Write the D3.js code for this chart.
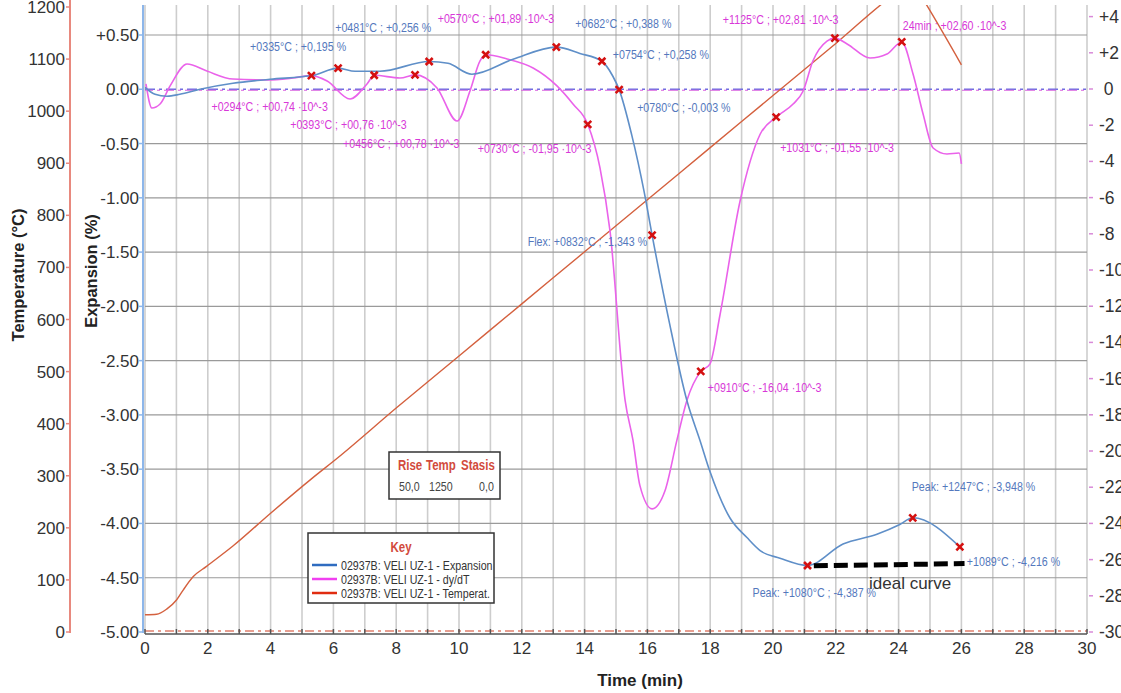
<!DOCTYPE html>
<html><head><meta charset="utf-8">
<script src="https://cdn.jsdelivr.net/npm/d3@7"></script>
<style>body{margin:0;background:#fff;overflow:hidden}</style>
</head><body><svg id="c" width="1121" height="693"></svg>
<script>
// ---------- DATA ----------
const timeTicks = [0,2,4,6,8,10,12,14,16,18,20,22,24,26,28,30];
const tempTicks = [0,100,200,300,400,500,600,700,800,900,1000,1100,1200];
const expTicks = [0.5,0,-0.5,-1,-1.5,-2,-2.5,-3,-3.5,-4,-4.5,-5];
const expTickLabels = ["+0.50","0.00","-0.50","-1.00","-1.50","-2.00","-2.50","-3.00","-3.50","-4.00","-4.50","-5.00"];
const dydtTicks = [4,2,0,-2,-4,-6,-8,-10,-12,-14,-16,-18,-20,-22,-24,-26,-28,-30];
const dydtTickLabels = ["+4","+2"," 0","-2","-4","-6","-8","-10","-12","-14","-16","-18","-20","-22","-24","-26","-28","-30"];

const expansionTime  = [0,0.32,0.7,1.11,1.75,2.8,3.98,5.35,6.15,6.69,7.48,9.05,9.65,10.41,11.72,13.1,13.85,14.55,14.9,15.1,15.5,15.9,16.15,16.7,17.26,17.68,17.99,18.63,19.17,19.59,20.22,21.1,22.23,23.31,24.04,24.45,25.95];
const expansionValue = [0.018,-0.046,-0.064,-0.046,0.0,0.055,0.092,0.129,0.195,0.166,0.166,0.256,0.239,0.138,0.276,0.388,0.33,0.258,0.12,-0.003,-0.42,-0.95,-1.343,-2.15,-2.87,-3.24,-3.52,-3.95,-4.13,-4.25,-4.32,-4.387,-4.19,-4.10,-4.01,-3.948,-4.216];

const dydtTime  = [0.03,0.22,0.48,0.8,1.34,1.97,2.8,3.89,4.71,5.3,5.8,6.53,7.07,7.3,8.12,8.6,9.3,9.94,10.35,10.67,10.85,11.53,12.36,13.12,13.63,14.1,14.49,14.81,15.29,15.54,15.76,16.15,16.56,16.94,17.26,17.7,17.99,18.31,18.95,19.59,20.1,20.64,20.96,21.27,21.72,21.97,22.36,23.09,23.63,24.1,24.46,24.78,25.1,25.54,25.93,26.0];
const dydtValue = [0.28,-1.05,-0.83,0.17,1.38,0.99,0.55,0.50,0.61,0.74,0.44,-0.55,0.28,0.76,0.61,0.78,0.06,-1.77,-0.11,1.55,1.89,1.66,1.16,0.17,-0.83,-1.95,-4.36,-7.85,-17.2,-19.4,-21.9,-23.2,-22.2,-19.4,-17.2,-15.6,-15.2,-12.5,-6.2,-2.5,-1.55,-0.83,-0.11,1.55,2.65,2.81,2.49,1.71,1.93,2.60,0.83,-1.38,-3.26,-3.59,-3.54,-4.14];

const tempTime  = [0,0.37,0.69,1.01,1.21,1.53,1.96,2.8,4,5.3,6.15,8,10,12,14,16,18,20,22,24,24.45,24.9,26];
const tempValue = [33,34,44,62,80,106,126,165,228,294,335,430,530,630,730,830,930,1030,1130,1230,1247,1203,1089];

const expMarkerTime  = [6.15,9.05,13.1,14.55,15.1,16.15,21.1,24.45,25.95];
const expMarkerValue = [0.195,0.256,0.388,0.258,-0.003,-1.343,-4.387,-3.948,-4.216];
const expMarkerLabel = ["+0335°C ; +0,195 %","+0481°C ; +0,256 %","+0682°C ; +0,388 %","+0754°C ; +0,258 %","+0780°C ; -0,003 %","Flex: +0832°C ; -1,343 %","Peak: +1080°C ; -4,387 %","Peak: +1247°C ; -3,948 %","+1089°C ; -4,216 %"];

const dydtMarkerTime  = [5.3,7.3,8.6,10.85,14.1,17.7,20.1,21.97,24.1];
const dydtMarkerValue = [0.74,0.76,0.78,1.89,-1.95,-15.6,-1.55,2.81,2.60];
const dydtMarkerLabel = ["+0294°C ; +00,74 ·10^-3","+0393°C ; +00,76 ·10^-3","+0456°C ; +00,78 ·10^-3","+0570°C ; +01,89 ·10^-3","+0730°C ; -01,95 ·10^-3","+0910°C ; -16,04 ·10^-3","+1031°C ; -01,55 ·10^-3","+1125°C ; +02,81 ·10^-3","24min ; +02,60 ·10^-3"];

const legendLabels = ["02937B: VELI UZ-1 - Expansion","02937B: VELI UZ-1 - dy/dT","02937B: VELI UZ-1 - Temperat."];
const paramHeaders = ["Rise","Temp","Stasis"];
const paramValues = ["50,0","1250","0,0"];
const idealCurveTime = [21.3, 26.1];
const idealCurveValue = [-4.39, -4.37];

// ---------- LAYOUT (pixel offsets for annotation labels) ----------
const expLabelOffset = [[-88,-17,"start"],[-94,-29,"start"],[19,-19,"start"],[11,-2,"start"],[18,22,"start"],[-5,11,"end"],[-55,32,"start"],[-1,-27,"start"],[7,19,"start"]];
const dydtLabelOffset = [[-100,35],[-84,54],[-72,73],[-48,-32],[-110,29],[7,21],[4,35],[-112,-14],[1,-12]];

// ---------- CHART ----------
const svg = d3.select("#c");
const L = 145, R = 1087, T = 5, B = 632;
const x = d3.scaleLinear().domain([0,30]).range([L,R]);
const yE = d3.scaleLinear().domain([-5,0.5]).range([B,35]);
const yT = d3.scaleLinear().domain([0,1200]).range([B,7]);
const yD = d3.scaleLinear().domain([-30,0]).range([B,89]);

const tickFont = "'Liberation Sans', Arial, sans-serif";

// horizontally condensed text (Arial Narrow look)
function ntext(sel, px, py, txt, opt){
  opt = opt || {};
  return sel.append("text")
    .attr("transform",`translate(${px},${py}) scale(0.82,1)`)
    .attr("text-anchor",opt.anchor||"start")
    .attr("font-family",tickFont)
    .attr("font-weight",opt.weight||"normal")
    .attr("font-size",opt.size||13)
    .attr("fill",opt.fill||"#333")
    .text(txt);
}

svg.append("defs").append("clipPath").attr("id","plot")
  .append("rect").attr("x",L).attr("y",T).attr("width",R-L).attr("height",B-T);

// vertical grid
const g = svg.append("g");
g.selectAll(".vg").data(d3.range(0,31)).enter().append("line")
  .attr("x1",d=>x(d)).attr("x2",d=>x(d)).attr("y1",T).attr("y2",B)
  .attr("stroke","#cdcdcd").attr("stroke-width",1.6);
// horizontal grid
g.selectAll(".hg").data(expTicks.filter(d=>d!==0 && d!==-5)).enter().append("line")
  .attr("x1",L).attr("x2",R).attr("y1",d=>yE(d)).attr("y2",d=>yE(d))
  .attr("stroke","#9a9a9a").attr("stroke-width",1.2);

// zero dash-dot lines
g.append("line").attr("x1",L).attr("x2",R).attr("y1",yE(0)).attr("y2",yE(0))
  .attr("stroke","#6f6fe0").attr("stroke-width",1.6).attr("stroke-dasharray","10,4,3,4");
g.append("line").attr("x1",L).attr("x2",R).attr("y1",yE(0)+1).attr("y2",yE(0)+1)
  .attr("stroke","#d860e0").attr("stroke-width",1.2).attr("stroke-dasharray","10,4,3,4").attr("stroke-dashoffset",2);
// bottom dash-dot
g.append("line").attr("x1",L).attr("x2",R).attr("y1",yE(-5)-1).attr("y2",yE(-5)-1)
  .attr("stroke","#e0806e").attr("stroke-width",1.5).attr("stroke-dasharray","9,4,3,4");

// x axis
g.append("line").attr("x1",L).attr("x2",R).attr("y1",B+2).attr("y2",B+2).attr("stroke","#555").attr("stroke-width",1.5);
g.selectAll(".xt").data(d3.range(0,31)).enter().append("line")
  .attr("x1",d=>x(d)).attr("x2",d=>x(d)).attr("y1",B-3).attr("y2",B+2).attr("stroke","#555").attr("stroke-width",1.5);
g.selectAll(".xl").data(timeTicks).enter().append("text")
  .attr("x",d=>x(d)).attr("y",654).attr("text-anchor","middle")
  .attr("font-family",tickFont).attr("font-size",17).attr("fill","#333").text(d=>d);
svg.append("text").attr("x",640).attr("y",686).attr("text-anchor","middle")
  .attr("font-family",tickFont).attr("font-weight","bold").attr("font-size",17).attr("fill","#222").text("Time (min)");

// temperature axis
svg.append("line").attr("x1",70).attr("x2",70).attr("y1",0).attr("y2",B+1).attr("stroke","#e8897e").attr("stroke-width",2);
svg.selectAll(".tt").data(tempTicks).enter().append("line")
  .attr("x1",66).attr("x2",70).attr("y1",d=>yT(d)).attr("y2",d=>yT(d)).attr("stroke","#e8897e").attr("stroke-width",1.5);
svg.selectAll(".tl").data(tempTicks).enter().append("text")
  .attr("x",65).attr("y",d=>yT(d)+6).attr("text-anchor","end")
  .attr("font-family",tickFont).attr("font-size",17).attr("fill","#333").text(d=>d);
svg.append("text").attr("transform","translate(24,275) rotate(-90)").attr("text-anchor","middle")
  .attr("font-family",tickFont).attr("font-weight","bold").attr("font-size",16.5).attr("fill","#222").text("Temperature (°C)");

// expansion axis
svg.append("line").attr("x1",143).attr("x2",143).attr("y1",T).attr("y2",B+1).attr("stroke","#8db6ea").attr("stroke-width",2);
svg.selectAll(".et").data(expTicks).enter().append("line")
  .attr("x1",139).attr("x2",143).attr("y1",d=>yE(d)).attr("y2",d=>yE(d)).attr("stroke","#8db6ea").attr("stroke-width",1.5);
svg.selectAll(".el").data(expTicks).enter().append("text")
  .attr("x",139).attr("y",d=>yE(d)+6).attr("text-anchor","end")
  .attr("font-family",tickFont).attr("font-size",17).attr("fill","#333").text((d,i)=>expTickLabels[i]);
svg.append("text").attr("transform","translate(97,271) rotate(-90)").attr("text-anchor","middle")
  .attr("font-family",tickFont).attr("font-weight","bold").attr("font-size",16.5).attr("fill","#222").text("Expansion (%)");

// dy/dT axis (right) - labels run off the right edge as in the original
svg.selectAll(".dt").data(dydtTicks).enter().append("line")
  .attr("x1",1089).attr("x2",1093).attr("y1",d=>yD(d)).attr("y2",d=>yD(d)).attr("stroke","#d98ad9").attr("stroke-width",1.5);
svg.selectAll(".dl").data(dydtTicks).enter().append("text")
  .attr("x",1099).attr("y",d=>yD(d)+6).attr("xml:space","preserve")
  .attr("font-family",tickFont).attr("font-size",17.5).attr("fill","#333").text((d,i)=>dydtTickLabels[i]);

// curves
const plot = svg.append("g").attr("clip-path","url(#plot)");
const lineT = d3.line().x(d=>x(d[0])).y(d=>yT(d[1])).curve(d3.curveMonotoneX);
const lineE = d3.line().x(d=>x(d[0])).y(d=>yE(d[1])).curve(d3.curveMonotoneX);
const lineD = d3.line().x(d=>x(d[0])).y(d=>yD(d[1])).curve(d3.curveMonotoneX);
plot.append("path").attr("d",lineT(d3.zip(tempTime,tempValue))).attr("fill","none").attr("stroke","#d4603e").attr("stroke-width",1.4);
plot.append("path").attr("d",lineD(d3.zip(dydtTime,dydtValue))).attr("fill","none").attr("stroke","#ea62ea").attr("stroke-width",1.6);
plot.append("path").attr("d",lineE(d3.zip(expansionTime,expansionValue))).attr("fill","none").attr("stroke","#5f8fc8").attr("stroke-width",1.6);

// ideal curve
svg.append("path").attr("d",d3.line().x(d=>x(d[0])).y(d=>yE(d[1]))(d3.zip(idealCurveTime,idealCurveValue)))
  .attr("fill","none").attr("stroke","#000").attr("stroke-width",5).attr("stroke-dasharray","14,6");
svg.append("text").attr("x",869).attr("y",589).attr("font-family",tickFont).attr("font-size",17).attr("fill","#333").text("ideal curve");

// markers
function marker(sel, px, py){
  sel.append("path").attr("d",`M${px-3.5},${py-3.5}L${px+3.5},${py+3.5}M${px-3.5},${py+3.5}L${px+3.5},${py-3.5}`)
    .attr("stroke","#d41010").attr("stroke-width",2.6).attr("fill","none");
}
const ann = svg.append("g");
expMarkerTime.forEach((t,i)=>{
  const px=x(t), py=yE(expMarkerValue[i]);
  marker(ann,px,py);
  const o=expLabelOffset[i];
  ntext(ann, px+o[0], py+o[1], expMarkerLabel[i], {anchor:o[2], fill:"#5478bd", size:13});
});
dydtMarkerTime.forEach((t,i)=>{
  const px=x(t), py=yD(dydtMarkerValue[i]);
  marker(ann,px,py);
  const o=dydtLabelOffset[i];
  ntext(ann, px+o[0], py+o[1], dydtMarkerLabel[i], {fill:"#d838d8", size:13});
});

// parameter box
const pb = svg.append("g");
pb.append("rect").attr("x",389).attr("y",452).attr("width",111).attr("height",47).attr("fill","#fff").attr("stroke","#333").attr("stroke-width",1.5);
const phx=[398,426,461], pvx=[399,429,479];
paramHeaders.forEach((h,i)=>ntext(pb, phx[i], 470, h, {weight:"bold", size:14, fill:"#d24a3c"}));
paramValues.forEach((v,i)=>ntext(pb, pvx[i], 491, v, {size:13, fill:"#444"}));

// legend
const lg = svg.append("g");
lg.append("rect").attr("x",308).attr("y",533).attr("width",186).attr("height",70).attr("fill","#fff").attr("stroke","#333").attr("stroke-width",1.5);
ntext(lg, 401, 552, "Key", {anchor:"middle", weight:"bold", size:14, fill:"#d24a3c"});
const lcol=["#2f6cc0","#f040f0","#e02c10"];
legendLabels.forEach((s,i)=>{
  const yy=565+i*14;
  lg.append("line").attr("x1",312).attr("x2",337).attr("y1",yy).attr("y2",yy).attr("stroke",lcol[i]).attr("stroke-width",2.5);
  ntext(lg, 341, yy+4.5, s, {size:13, fill:"#333"});
});
</script></body></html>
